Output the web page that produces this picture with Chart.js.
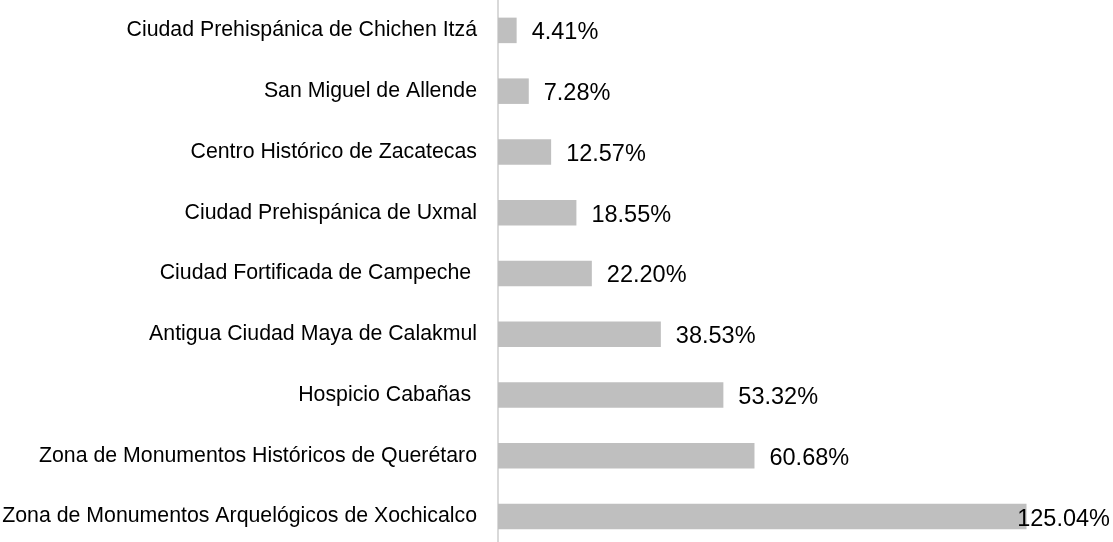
<!DOCTYPE html>
<html>
<head>
<meta charset="utf-8">
<script src="https://cdn.jsdelivr.net/npm/chart.js@4"></script>
<style>
  html, body { margin: 0; padding: 0; background: #ffffff; overflow: hidden; }
  #wrap { position: relative; width: 1113px; height: 547px; }
</style>
</head>
<body>
<div id="wrap"><canvas id="c"></canvas></div>
<script>
const categories = [
  "Ciudad Prehispánica de Chichen Itzá",
  "San Miguel de Allende",
  "Centro Histórico de Zacatecas",
  "Ciudad Prehispánica de Uxmal",
  "Ciudad Fortificada de Campeche ",
  "Antigua Ciudad Maya de Calakmul",
  "Hospicio Cabañas ",
  "Zona de Monumentos Históricos de Querétaro",
  "Zona de Monumentos Arquelógicos de Xochicalco"
];
const values = [4.41, 7.28, 12.57, 18.55, 22.20, 38.53, 53.32, 60.68, 125.04];
const valueLabels = ["4.41%", "7.28%", "12.57%", "18.55%", "22.20%", "38.53%", "53.32%", "60.68%", "125.04%"];

const FONT = '"Liberation Sans", Arial, sans-serif';

const valueLabelPlugin = {
  id: 'valueLabels',
  afterDatasetsDraw(chart) {
    const ctx = chart.ctx;
    const meta = chart.getDatasetMeta(0);
    ctx.save();
    ctx.font = '23.5px ' + FONT;
    ctx.fillStyle = '#000000';
    ctx.textAlign = 'left';
    ctx.textBaseline = 'middle';
    meta.data.forEach((bar, i) => {
      const txt = valueLabels[i];
      const w = ctx.measureText(txt).width;
      let x = bar.x + 15;
      const maxX = chart.width - 3 - w;
      if (x > maxX) x = maxX;
      ctx.fillText(txt, x, bar.y + 2.5);
    });
    ctx.restore();
  }
};

new Chart(document.getElementById('c'), {
  type: 'bar',
  data: {
    labels: categories,
    datasets: [{
      data: values,
      backgroundColor: '#bfbfbf',
      borderWidth: 0,
      barPercentage: 0.42,
      categoryPercentage: 1.0
    }]
  },
  options: {
    indexAxis: 'y',
    responsive: true,
    maintainAspectRatio: false,
    animation: false,
    layout: { padding: 0 },
    plugins: {
      legend: { display: false },
      tooltip: { enabled: false },
      title: { display: false }
    },
    scales: {
      x: {
        display: false,
        min: 0,
        max: 145.5
      },
      y: {
        offset: true,
        grid: { display: false, drawTicks: false },
        border: { display: true, color: '#d9d9d9', width: 2 },
        ticks: {
          color: '#000000',
          padding: 21,
          font: { family: FONT, size: 21.3 },
          autoSkip: false
        },
        afterFit(scale) {
          scale.width = 498;
          scale.paddingTop = 0;
          scale.paddingBottom = 0;
        }
      }
    }
  },
  plugins: [valueLabelPlugin]
});
</script>
</body>
</html>
